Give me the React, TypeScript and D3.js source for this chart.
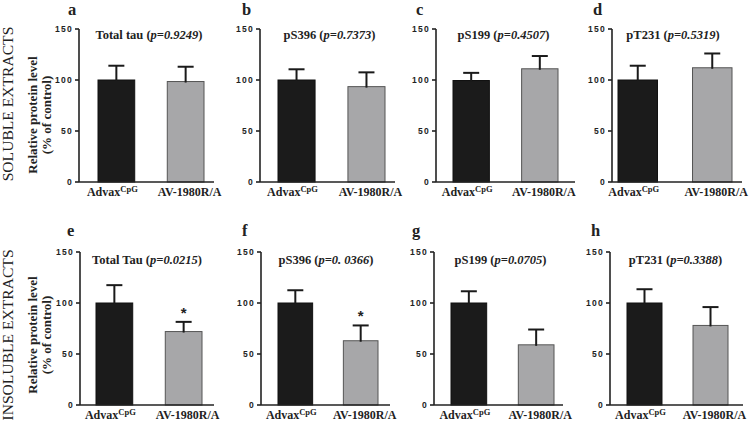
import React from "react";
import * as d3 from "d3";

// ---- data ----
const panelLetters = ["a", "b", "c", "d", "e", "f", "g", "h"];
const panelTitles = ["Total tau", "pS396", "pS199", "pT231", "Total Tau", "pS396", "pS199", "pT231"];
const pValues = ["0.9249", "0.7373", "0.4507", "0.5319", "0.0215", "0. 0366", "0.0705", "0.3388"];
const groups = ["AdvaxCpG", "AV-1980R/A"];
const advaxMeans = [100, 100, 99.5, 100, 100, 100, 100, 100];
const advaxSem = [14, 10.5, 7.5, 14, 17.5, 12.5, 11.5, 13.5];
const avMeans = [98.5, 93.5, 111, 112, 72, 63, 59, 78];
const avSem = [14.5, 14, 12.5, 14, 9.5, 15, 15, 18];
const significant = [false, false, false, false, true, true, false, false];
const yTicks = [0, 50, 100, 150];
const rowLabels = ["SOLUBLE EXTRACTS", "INSOLUBLE EXTRACTS"];

// ---- layout ----
const W = 755;
const H = 422;
const rowY0 = [182, 405];
const rowY150 = [29, 252];
const axisX = [79, 260, 436, 612, 80, 261, 434, 610];
const barStart = [98, 278, 453, 618, 96, 278, 451, 627];
const barEnd = [204, 385, 558, 732, 202, 378, 554, 728];
const axisEnd = [214, 395, 575, 742, 214, 390, 563, 743];
const letterX = [68, 242, 416, 593, 67, 242, 412, 591];

const SERIF = "'Liberation Serif', 'Times New Roman', serif";
const SANS = "'Liberation Sans', Arial, sans-serif";
const BLACK = "#1b1b1b";
const GREY = "#a7a7a9";

function Panel({ i }: { i: number }) {
  const row = i < 4 ? 0 : 1;
  const y = d3.scaleLinear().domain([0, 150]).range([rowY0[row], rowY150[row]]);
  const x = d3
    .scaleBand<string>()
    .domain(groups)
    .range([barStart[i], barEnd[i]])
    .paddingInner(0.47)
    .paddingOuter(0);
  const bw = x.bandwidth();
  const means = [advaxMeans[i], avMeans[i]];
  const sems = [advaxSem[i], avSem[i]];
  const fills = [BLACK, GREY];
  const strokes = ["#111", "#555"];
  const ax = axisX[i];
  const y0 = y(0);
  const titleX = (barStart[i] + barEnd[i]) / 2 - 2;
  const titleY = row === 0 ? 39 : 264;
  const labelY = row === 0 ? 196 : 419;
  const capW = 16;
  return (
    <g>
      {/* panel letter */}
      <text
        x={letterX[i]}
        y={row === 0 ? 15 : 236}
        fontFamily={SERIF}
        fontWeight="bold"
        fontSize={16.5}
        fill="#222"
      >
        {panelLetters[i]}
      </text>
      {/* bars */}
      {groups.map((g, k) => {
        const bx = x(g)!;
        const top = y(means[k]);
        const errTop = y(means[k] + sems[k]);
        const cx = bx + bw / 2;
        return (
          <g key={g}>
            <rect
              x={bx}
              y={top}
              width={bw}
              height={y0 - top}
              fill={fills[k]}
              stroke={strokes[k]}
              strokeWidth={1}
            />
            <line x1={cx} x2={cx} y1={top + 1} y2={errTop} stroke="#1a1a1a" strokeWidth={2} />
            <line
              x1={cx - capW / 2}
              x2={cx + capW / 2}
              y1={errTop}
              y2={errTop}
              stroke="#1a1a1a"
              strokeWidth={2}
            />
            {k === 1 && significant[i] && (
              <text
                x={cx}
                y={errTop - 4}
                textAnchor="middle"
                fontFamily={SANS}
                fontWeight="bold"
                fontSize={15}
                fill="#222"
              >
                *
              </text>
            )}
          </g>
        );
      })}
      {/* axes */}
      <line x1={ax} x2={ax} y1={y(150)} y2={y0} stroke="#222" strokeWidth={1.6} />
      <line x1={ax} x2={axisEnd[i]} y1={y0} y2={y0} stroke="#222" strokeWidth={1.6} />
      {yTicks.map((t) => (
        <g key={t}>
          <line x1={ax - 4} x2={ax} y1={y(t)} y2={y(t)} stroke="#222" strokeWidth={1.6} />
          <text
            x={ax - 6}
            y={y(t)}
            dy="0.35em"
            textAnchor="end"
            fontFamily={SANS}
            fontWeight="bold"
            fontSize={8.5}
            letterSpacing={1.3}
            fill="#222"
          >
            {t}
          </text>
        </g>
      ))}
      {/* title */}
      <text
        x={titleX}
        y={titleY}
        textAnchor="middle"
        fontFamily={SERIF}
        fontWeight="bold"
        fontSize={12.5}
        fill="#222"
      >
        {panelTitles[i]} (
        <tspan fontStyle="italic">p=</tspan>
        <tspan fontStyle="italic">{pValues[i]}</tspan>)
      </text>
      {/* x labels */}
      <text
        x={x(groups[0])! + bw / 2 - 4}
        y={labelY}
        textAnchor="middle"
        fontFamily={SERIF}
        fontWeight="bold"
        fontSize={12}
        fill="#222"
      >
        Advax
        <tspan fontSize={8.5} dy={-4}>
          CpG
        </tspan>
      </text>
      <text
        x={x(groups[1])! + bw / 2 + 4}
        y={labelY}
        textAnchor="middle"
        fontFamily={SERIF}
        fontWeight="bold"
        fontSize={12}
        fill="#222"
      >
        {groups[1]}
      </text>
    </g>
  );
}

export default function App() {
  const rowCenters = [104, 335];
  return (
    <svg
      width={W}
      height={H}
      style={{ position: "absolute", left: 0, top: 0, background: "#fff" }}
    >
      <rect width={W} height={H} fill="#fff" />
      {rowCenters.map((cy, r) => (
        <g key={r}>
          <text
            transform={`translate(13,${cy}) rotate(-90)`}
            textAnchor="middle"
            fontFamily={SERIF}
            fontSize={15.6}
            fill="#222"
          >
            {rowLabels[r]}
          </text>
          <text
            transform={`translate(37,${cy + (r === 0 ? 11 : 0)}) rotate(-90)`}
            textAnchor="middle"
            fontFamily={SERIF}
            fontWeight="bold"
            fontSize={13}
            fill="#222"
          >
            Relative protein level
          </text>
          <text
            transform={`translate(51,${cy + (r === 0 ? 11 : 0)}) rotate(-90)`}
            textAnchor="middle"
            fontFamily={SERIF}
            fontWeight="bold"
            fontSize={13}
            fill="#222"
          >
            (% of control)
          </text>
        </g>
      ))}
      {panelLetters.map((_, i) => (
        <Panel key={i} i={i} />
      ))}
    </svg>
  );
}
